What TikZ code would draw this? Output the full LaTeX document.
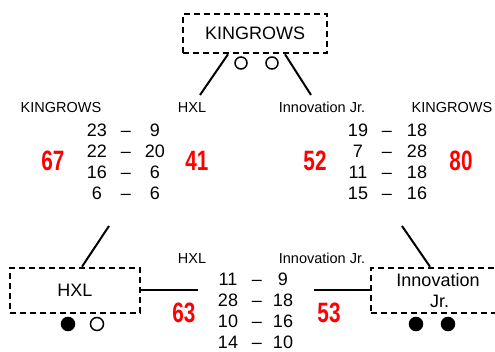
\documentclass[tikz,border=0pt]{standalone}
\usepackage{fontspec}
\usepackage{graphicx}
\setmainfont{Liberation Sans}
\newcommand{\bignum}[1]{\scalebox{0.74}[1]{#1}}
\begin{document}
\begin{tikzpicture}[x=1pt,y=-1pt,
  teambox/.style={draw,line width=2.6pt,dash pattern=on 6pt off 4pt,inner sep=0pt,font=\fontsize{18}{21}\selectfont,align=center},
  conn/.style={line width=2pt},
  lbl/.style={inner sep=0pt,font=\fontsize{14.5}{14.5}\selectfont,text height=10.4pt,text depth=0pt},
  sc/.style={inner sep=0pt,font=\fontsize{18}{18}\selectfont,text height=12.9pt,text depth=0pt},
  red/.style={inner sep=0pt,font=\fontsize{28}{28}\selectfont\bfseries,text=red,text height=20pt,text depth=0pt},
  win/.style={circle,fill=black,draw,line width=1.5pt,minimum size=13pt,inner sep=0pt},
  loss/.style={circle,draw,line width=1.5pt,minimum size=13pt,inner sep=0pt},
  losssm/.style={circle,draw,line width=1.5pt,minimum size=12pt,inner sep=0pt}]
\clip (0,0) rectangle (495,352);
% boxes
\node[teambox,minimum width=144pt,minimum height=39pt] (top) at (255,33.5) {KINGROWS};
\node[teambox,minimum width=130pt,minimum height=45pt] (hxl) at (75,290.5) {HXL};
\node[teambox,minimum width=134pt,minimum height=45pt] (inn) at (438,290.5) {Innovation\\\hspace*{3pt}Jr.};
% result circles
\node[losssm] (t1) at (241,63) {};
\node[losssm] (t2) at (272,63) {};
\node[win] (h1) at (68,324) {};
\node[loss] (h2) at (97,324) {};
\node[win] (i1) at (416,324) {};
\node[win] (i2) at (448,324) {};
% connector ends
\coordinate (tlB) at (200,95);
\coordinate (trB) at (311,95);
\coordinate (hB) at (109,226);
\coordinate (hR) at (198,290.5);
\coordinate (iB) at (402,226);
\coordinate (iL) at (314,290.5);
\draw[conn] ([xshift=-27pt]top.south) -- (tlB);
\draw[conn] ([xshift=30pt]top.south) -- (trB);
\draw[conn] ([xshift=7pt]hxl.north) -- (hB);
\draw[conn] (hxl.east) -- (hR);
\draw[conn] ([xshift=-8pt]inn.north) -- (iB);
\draw[conn] (inn.west) -- (iL);
% labels
\node[lbl] (l1) at (61,107) {KINGROWS};
\node[lbl] (l2) at (192,107) {HXL};
\node[lbl] (l3) at (322,107) {Innovation Jr.};
\node[lbl] (l4) at (452,107) {KINGROWS};
\node[lbl] (l5) at (192,258) {HXL};
\node[lbl] (l6) at (322,258) {Innovation Jr.};
% red totals
\node[red] (r1) at (53,161) {\bignum{67}};
\node[red] (r2) at (197,161) {\bignum{41}};
\node[red] (r3) at (315,161) {\bignum{52}};
\node[red] (r4) at (461,161) {\bignum{80}};
\node[red] (r5) at (184,312.5) {\bignum{63}};
\node[red] (r6) at (329,312.5) {\bignum{53}};
% score rows: KINGROWS - HXL
\foreach \i/\y/\a/\b in {1/130/23/9,2/151/22/20,3/172/16/6,4/193/6/6}{
  \node[sc] (ka\i) at (97,\y) {\a};
  \node[sc] (kd\i) at (126,\y) {–};
  \node[sc] (kb\i) at (155,\y) {\b};
}
% Innovation Jr. - KINGROWS
\foreach \i/\y/\a/\b in {1/130/19/18,2/151/7/28,3/172/11/18,4/193/15/16}{
  \node[sc] (ia\i) at (358,\y) {\a};
  \node[sc] (id\i) at (387,\y) {–};
  \node[sc] (ib\i) at (417,\y) {\b};
}
% HXL - Innovation Jr.
\foreach \i/\y/\a/\b in {1/279/11/9,2/300/28/18,3/321/10/16,4/342/14/10}{
  \node[sc] (ha\i) at (228,\y) {\a};
  \node[sc] (hd\i) at (257,\y) {–};
  \node[sc] (hb\i) at (283,\y) {\b};
}
\end{tikzpicture}
\end{document}
